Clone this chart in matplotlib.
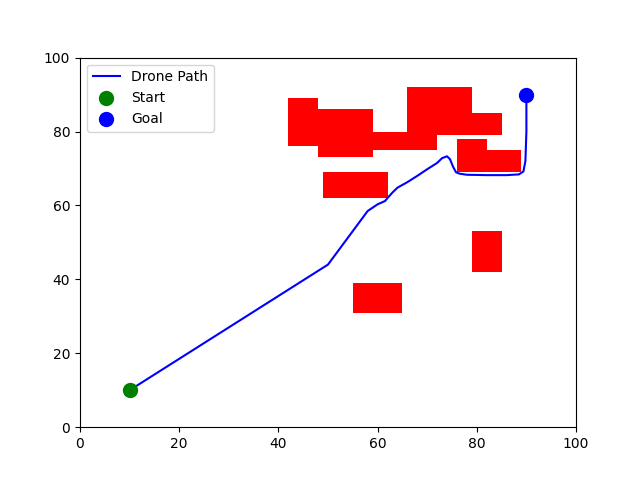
import matplotlib
matplotlib.use("Agg")
import matplotlib.pyplot as plt
from matplotlib.patches import Rectangle

# obstacles: (x, y, width, height)
obstacles = [
    (42, 76, 6, 13), (48, 73, 11, 13), (59, 75, 13, 5), (66, 79, 13, 13),
    (79, 79, 6, 6), (76, 69, 6, 9), (82, 69, 7, 6), (49, 62, 13, 7),
    (79, 42, 6, 11), (55, 31, 10, 8),
]
path_x = [10, 30, 50, 58, 60, 61.5, 62, 63, 64, 66, 68, 70, 72, 73, 74, 74.6, 75.2, 75.8, 76.5, 78, 82, 86, 88.5, 89.4, 89.8, 90, 90]
path_y = [10, 27, 44, 58.5, 60.3, 61.2, 62, 63.5, 64.8, 66.3, 68, 69.8, 71.5, 72.8, 73.3, 72.5, 70.5, 69, 68.6, 68.3, 68.2, 68.2, 68.4, 69.2, 72, 80, 90]
start = (10, 10)
goal = (90, 90)

fig, ax = plt.subplots(figsize=(6.4, 4.8), dpi=100)
for (x, y, w, h) in obstacles:
    ax.add_patch(Rectangle((x, y), w, h, facecolor="red", edgecolor="none"))
ax.plot(path_x, path_y, color="blue", label="Drone Path")
ax.scatter(*start, color="green", s=100, label="Start", zorder=3)
ax.scatter(*goal, color="blue", s=100, label="Goal", zorder=3)
ax.set_xlim(0, 100)
ax.set_ylim(0, 100)
ax.legend(loc="upper left")
fig.savefig("out.png")
